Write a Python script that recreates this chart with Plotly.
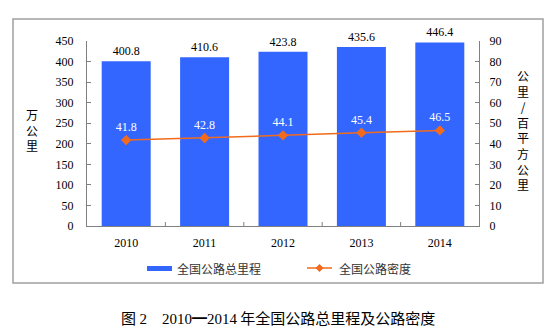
import plotly.graph_objects as go

years = ["2010", "2011", "2012", "2013", "2014"]
mileage = [400.8, 410.6, 423.8, 435.6, 446.4]
density = [41.8, 42.8, 44.1, 45.4, 46.5]
series_names = ["全国公路总里程", "全国公路密度"]

L, R, T, B = 87, 479, 41, 226
W, H = 560, 329
def px(x): return (x - L) / (R - L)
def py(y): return (B - y) / (B - T)

num_font = "Liberation Serif, Times New Roman, serif"
cjk_font = "Noto Sans CJK SC, sans-serif"
BLUE = "#3366FF"
ORANGE = "#F26B1D"

fig = go.Figure()
fig.add_trace(go.Bar(
    x=years, y=mileage, name=series_names[0],
    marker=dict(color=BLUE, line=dict(width=0)),
    text=[f"{v:.1f}" for v in mileage], textposition="outside",
    textfont=dict(family=num_font, size=12, color="black"),
    cliponaxis=False, showlegend=False,
))
fig.add_trace(go.Scatter(
    x=years, y=density, name=series_names[1], yaxis="y2",
    mode="lines+markers+text",
    line=dict(color=ORANGE, width=1.5),
    marker=dict(symbol="diamond", size=8, color=ORANGE),
    text=[f"{v:.1f}" for v in density], textposition="top center",
    textfont=dict(family=num_font, size=12, color="white"),
    showlegend=False,
))

fig.update_layout(
    width=W, height=H,
    margin=dict(l=L, r=W - R, t=T, b=H - B, pad=0),
    paper_bgcolor="white", plot_bgcolor="white",
    bargap=0.375,
    showlegend=False,
    xaxis=dict(showline=True, linecolor="#808080", linewidth=1,
               ticks="", ticklabelstandoff=6,
               tickfont=dict(family=num_font, size=12, color="black"),
               showgrid=False),
    yaxis=dict(range=[0, 450], dtick=50, showline=True, linecolor="#808080", linewidth=1,
               ticks="inside", ticklen=4, tickcolor="#808080", showgrid=False, zeroline=False,
               ticklabelstandoff=10,
               tickfont=dict(family=num_font, size=12, color="black")),
    yaxis2=dict(range=[0, 90], dtick=10, overlaying="y", side="right",
                showline=True, linecolor="#808080", linewidth=1,
                ticks="inside", ticklen=4, tickcolor="#808080", showgrid=False, zeroline=False,
                ticklabelstandoff=7,
                tickfont=dict(family=num_font, size=12, color="black")),
    font=dict(family=num_font),
)

# category separator ticks on x axis
for i in range(1, 5):
    fig.add_shape(type="line", xref="x", yref="paper", x0=i - 0.5, x1=i - 0.5,
                  y0=0, y1=py(222), line=dict(color="#808080", width=1))

# outer border
fig.add_shape(type="rect", xref="paper", yref="paper",
              x0=px(13), x1=px(543), y0=py(283), y1=py(19),
              line=dict(color="#A0A0A0", width=1.5), fillcolor="rgba(0,0,0,0)", layer="below")

# custom legend
LEG_Y = 268
fig.add_shape(type="rect", xref="paper", yref="paper",
              x0=px(147), x1=px(172), y0=py(LEG_Y + 3), y1=py(LEG_Y - 2),
              line=dict(width=0), fillcolor=BLUE)
fig.add_annotation(xref="paper", yref="paper", x=px(175), y=py(LEG_Y), xanchor="left", yanchor="middle",
                   text=series_names[0], showarrow=False,
                   font=dict(family=cjk_font, size=12, color="#333"))
fig.add_shape(type="line", xref="paper", yref="paper",
              x0=px(307), x1=px(332), y0=py(LEG_Y), y1=py(LEG_Y),
              line=dict(color=ORANGE, width=1.5))
cx, d = 319.5, 4
fig.add_shape(type="path", xref="paper", yref="paper",
              path=f"M {px(cx-d)} {py(LEG_Y)} L {px(cx)} {py(LEG_Y-d)} L {px(cx+d)} {py(LEG_Y)} L {px(cx)} {py(LEG_Y+d)} Z",
              line=dict(width=0), fillcolor=ORANGE)
fig.add_annotation(xref="paper", yref="paper", x=px(337), y=py(LEG_Y), xanchor="left", yanchor="middle",
                   text=series_names[1], showarrow=False,
                   font=dict(family=cjk_font, size=12, color="#333"))

fig.add_annotation(xref="paper", yref="paper", x=px(32), y=py(130), xanchor="center", yanchor="middle",
                   text="万<br>公<br>里",
                   showarrow=False, font=dict(family=cjk_font, size=12, color="black"))
fig.add_annotation(xref="paper", yref="paper", x=px(523), y=py(130), xanchor="center", yanchor="middle",
                   text="公<br>里<br>/<br>百<br>平<br>方<br>公<br>里",
                   showarrow=False, font=dict(family=cjk_font, size=12, color="black"))
fig.add_annotation(xref="paper", yref="paper", x=px(278), y=py(317), xanchor="center", yanchor="middle",
                   text="图 <span style='font-family:Liberation Serif'>2　2010</span>━<span style='font-family:Liberation Serif'>2014</span> 年全国公路总里程及公路密度",
                   showarrow=False, font=dict(family=cjk_font, size=15, color="black"))

fig.write_html("out.html")
